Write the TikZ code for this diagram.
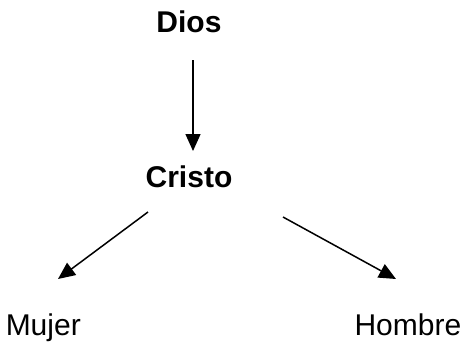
\documentclass[tikz,border=0pt]{standalone}
\usepackage{fontspec}
\setmainfont{Liberation Sans}
\usetikzlibrary{arrows.meta,positioning}

\begin{document}
\begin{tikzpicture}[x=1pt,y=-1pt,>={Triangle[length=17pt,width=15pt]},
  line width=1.5pt, every node/.style={inner sep=0pt,font=\fontsize{30}{36}\selectfont}]
  \useasboundingbox (0,0) rectangle (463,348);
  \node[anchor=base,font=\fontsize{30}{36}\selectfont\bfseries] (dios)   at (189,32)  {Dios};
  \node[anchor=base,font=\fontsize{30}{36}\selectfont\bfseries] (cristo) at (189,187) {Cristo};
  \node[anchor=base west] (mujer)  at (5,335)   {Mujer};
  \node[anchor=base east] (hombre) at (462,335) {Hombre};

  % ends of the arrows
  \coordinate (d_s) at (193,60);   \coordinate (d_e) at (193,151);
  \coordinate (m_s) at (148,212);  \coordinate (m_e) at (58,279);
  \coordinate (h_s) at (283,217);  \coordinate (h_e) at (396,279);

  \draw[->] (d_s) -- (d_e);
  \draw[->] (m_s) -- (m_e);
  \draw[->] (h_s) -- (h_e);
\end{tikzpicture}
\end{document}
